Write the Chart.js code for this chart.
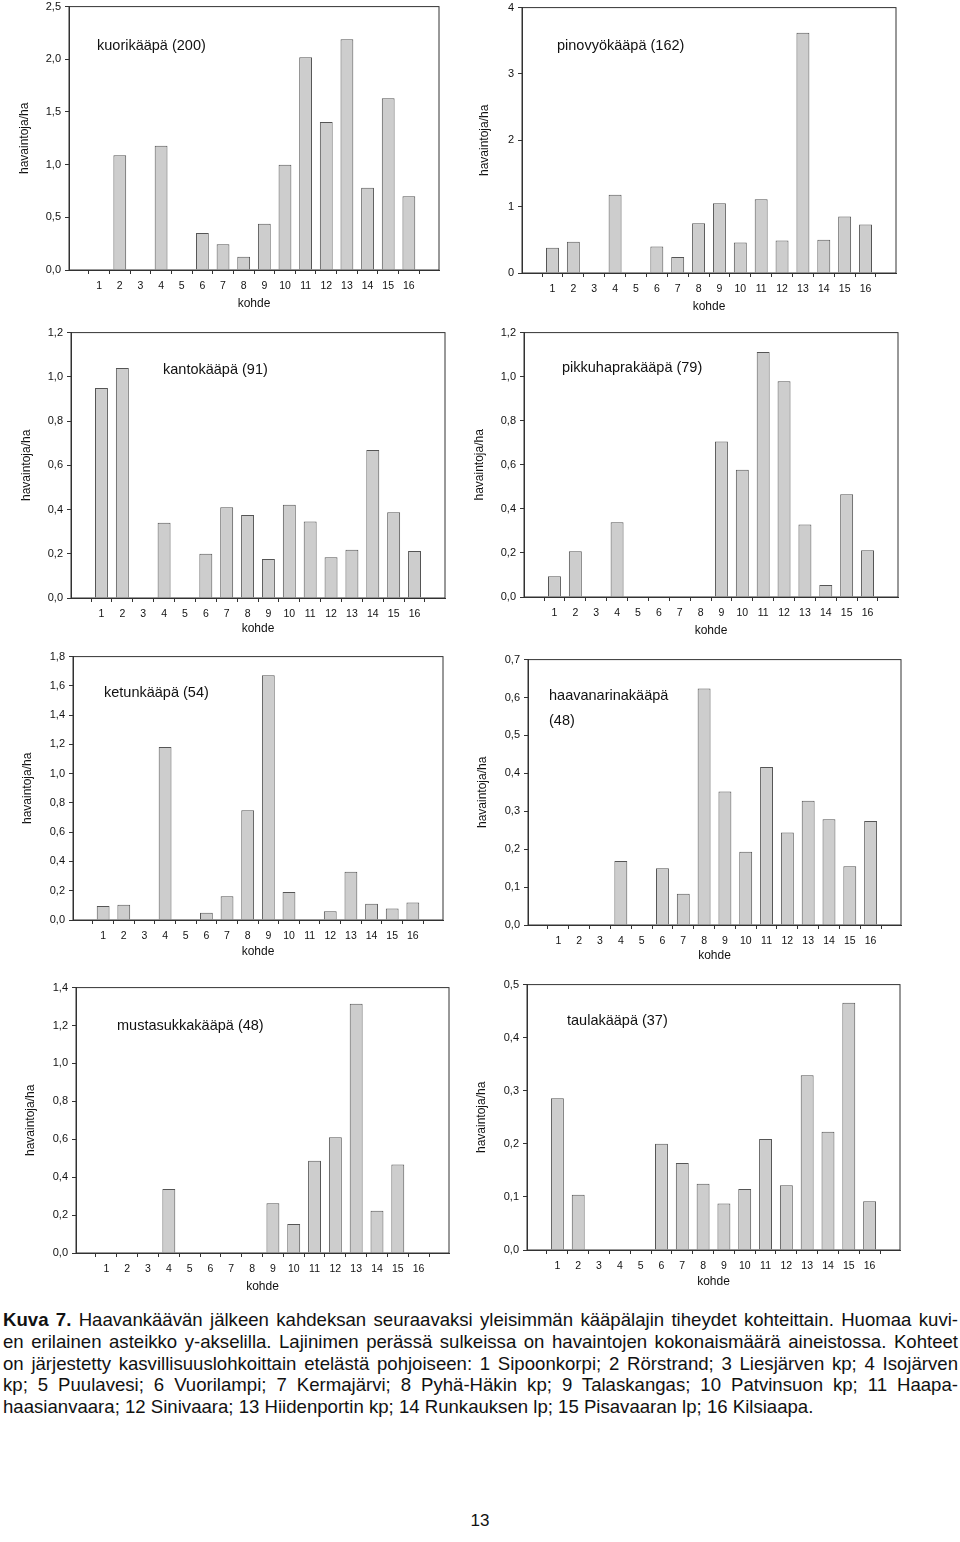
<!DOCTYPE html>
<html>
<head>
<meta charset="utf-8">
<script src="https://cdn.jsdelivr.net/npm/chart.js@4.4.0/dist/chart.umd.min.js"></script>
<style>
  body { margin: 0; background: #fff; width: 960px; height: 1542px; position: relative; overflow: hidden;
         font-family: "Liberation Sans", Arial, sans-serif; color: #111; }
  canvas { position: absolute; }
  #caption { position: absolute; left: 3px; top: 1309px; width: 955px; font-size: 18.6px; line-height: 21.8px; }
  #caption div { text-align: justify; text-align-last: justify; }
  #caption div.last { text-align-last: left; }
  #page { position: absolute; left: 0; width: 960px; top: 1511px; text-align: center; font-size: 17px; }
</style>
</head>
<body>

<canvas id="c1"></canvas>
<canvas id="c2"></canvas>
<canvas id="c3"></canvas>
<canvas id="c4"></canvas>
<canvas id="c5"></canvas>
<canvas id="c6"></canvas>
<canvas id="c7"></canvas>
<canvas id="c8"></canvas>

<div id="caption">
  <div><b>Kuva 7.</b> Haavankäävän jälkeen kahdeksan seuraavaksi yleisimmän kääpälajin tiheydet kohteittain. Huomaa kuvi-</div>
  <div>en erilainen asteikko y-akselilla. Lajinimen perässä sulkeissa on havaintojen kokonaismäärä aineistossa. Kohteet</div>
  <div>on järjestetty kasvillisuuslohkoittain etelästä pohjoiseen: 1 Sipoonkorpi; 2 Rörstrand; 3 Liesjärven kp; 4 Isojärven</div>
  <div>kp; 5 Puulavesi; 6 Vuorilampi; 7 Kermajärvi; 8 Pyhä-Häkin kp; 9 Talaskangas; 10 Patvinsuon kp; 11 Haapa-</div>
  <div class="last">haasianvaara; 12 Sinivaara; 13 Hiidenportin kp; 14 Runkauksen lp; 15 Pisavaaran lp; 16 Kilsiaapa.</div>
</div>
<div id="page">13</div>

<script>
// kohteet 1..16
const kohde = [1, 2, 3, 4, 5, 6, 7, 8, 9, 10, 11, 12, 13, 14, 15, 16];

// havaintoja/ha per laji
const kuorikaapa      = [0, 1.09, 0, 1.18, 0, 0.35, 0.245, 0.125, 0.44, 1.00, 2.02, 1.405, 2.19, 0.78, 1.63, 0.70];
const pinovyokaapa    = [0.38, 0.47, 0, 1.18, 0, 0.40, 0.24, 0.75, 1.05, 0.46, 1.11, 0.49, 3.62, 0.50, 0.85, 0.73];
const kantokaapa      = [0.95, 1.04, 0, 0.34, 0, 0.20, 0.41, 0.375, 0.176, 0.422, 0.346, 0.184, 0.218, 0.669, 0.388, 0.213];
const pikkuhaprakaapa = [0.094, 0.208, 0, 0.339, 0, 0, 0, 0, 0.706, 0.578, 1.112, 0.979, 0.329, 0.055, 0.466, 0.212];
const ketunkaapa      = [0.095, 0.104, 0, 1.183, 0, 0.05, 0.163, 0.75, 1.673, 0.192, 0, 0.059, 0.33, 0.111, 0.079, 0.12];
const haavanarinakaapa = [0, 0, 0, 0.169, 0, 0.150, 0.0825, 0.624, 0.352, 0.193, 0.417, 0.244, 0.328, 0.279, 0.155, 0.274];
const mustasukkakaapa = [0, 0, 0, 0.338, 0, 0, 0, 0, 0.263, 0.153, 0.486, 0.611, 1.315, 0.223, 0.467, 0];
const taulakaapa      = [0.286, 0.104, 0, 0, 0, 0.20, 0.164, 0.125, 0.0876, 0.115, 0.209, 0.122, 0.329, 0.223, 0.466, 0.092];

// otsikot ja y-asteikot
const otsikot = [
  ['kuorikääpä (200)'], ['pinovyökääpä (162)'], ['kantokääpä (91)'], ['pikkuhaprakääpä (79)'],
  ['ketunkääpä (54)'], ['haavanarinakääpä', '(48)'], ['mustasukkakääpä (48)'], ['taulakääpä (37)']
];
const yMax  = [2.5, 4, 1.2, 1.2, 1.8, 0.7, 1.4, 0.5];
const yStep = [0.5, 1, 0.2, 0.2, 0.2, 0.1, 0.2, 0.1];
const yDec  = [1, 0, 1, 1, 1, 1, 1, 1];

const sarjat = [kuorikaapa, pinovyokaapa, kantokaapa, pikkuhaprakaapa, ketunkaapa, haavanarinakaapa, mustasukkakaapa, taulakaapa];

// plot area on the page: left, top, right, bottom; title offset; y-title x; kohde offset
const layout = [
  { l: 69,  t: 4,   r: 439, b: 270,  tx: 28, ty: 39, yt: 25,  kd: 34 },
  { l: 522, t: 5,   r: 896, b: 273,  tx: 35, ty: 38, yt: 485, kd: 34 },
  { l: 71,  t: 330, r: 445, b: 598,  tx: 92, ty: 37, yt: 27,  kd: 31 },
  { l: 524, t: 330, r: 898, b: 597,  tx: 38, ty: 35, yt: 480, kd: 34 },
  { l: 73,  t: 654, r: 443, b: 920,  tx: 31, ty: 36, yt: 28,  kd: 32 },
  { l: 528, t: 657, r: 901, b: 925,  tx: 21, ty: 36, yt: 483, kd: 31 },
  { l: 76,  t: 985, r: 449, b: 1253, tx: 41, ty: 38, yt: 31,  kd: 34 },
  { l: 527, t: 982, r: 900, b: 1250, tx: 40, ty: 36, yt: 482, kd: 32 }
];

const PAD_L = 70, PAD_T = 8, PAD_R = 10, PAD_B = 46;
const axisColor = '#333';
const fontFam = '"Liberation Sans", Arial, sans-serif';

// frame round the plot + species name inside
const framePlugin = {
  id: 'frame',
  afterDraw(chart, args, opts) {
    const a = chart.chartArea, ctx = chart.ctx;
    ctx.save();
    ctx.strokeStyle = axisColor;
    ctx.lineWidth = 1;
    ctx.strokeRect(a.left, a.top, a.right - a.left, a.bottom - a.top);
    ctx.fillStyle = '#111';
    ctx.font = '14.5px ' + fontFam;
    ctx.textBaseline = 'middle';
    ctx.textAlign = 'left';
    opts.lines.forEach((s, i) => ctx.fillText(s, a.left + opts.x, a.top + opts.y + i * 25));
    ctx.restore();
  }
};

sarjat.forEach((vals, i) => {
  const L = layout[i];
  const cv = document.getElementById('c' + (i + 1));
  const w = L.r - L.l + PAD_L + PAD_R, h = L.b - L.t + PAD_T + PAD_B;
  cv.width = w; cv.height = h;
  cv.style.left = (L.l - PAD_L) + 'px';
  cv.style.top = (L.t - PAD_T) + 'px';
  const yTitlePad = L.yt - (L.l - PAD_L) - 7.2;

  new Chart(cv, {
    type: 'bar',
    data: {
      datasets: [{
        data: kohde.map((k, j) => ({ x: k, y: vals[j] })),
        backgroundColor: '#cdcdcd',
        borderColor: '#555',
        borderWidth: 1,
        categoryPercentage: 1,
        barPercentage: 0.62
      }]
    },
    options: {
      responsive: false,
      animation: false,
      layout: { padding: { left: 0, top: PAD_T, right: PAD_R, bottom: 0 } },
      plugins: {
        legend: { display: false },
        tooltip: { enabled: false },
        frame: { lines: otsikot[i], x: L.tx, y: L.ty }
      },
      scales: {
        x: {
          type: 'linear',
          min: 0.1,
          max: 16.9,
          afterBuildTicks: s => { s.ticks = kohde.map(v => ({ value: v })); },
          afterFit: s => { s.height = PAD_B; },
          grid: { drawOnChartArea: false, drawTicks: true, tickLength: 4, color: axisColor },
          border: { display: true, color: axisColor },
          ticks: { color: '#111', font: { family: fontFam, size: 10.5 }, padding: 6, maxRotation: 0, autoSkip: false },
          title: { display: true, text: 'kohde', color: '#111', font: { family: fontFam, size: 12 },
                   padding: { top: 0, bottom: PAD_B - L.kd - 7.2 } }
        },
        y: {
          min: 0,
          max: yMax[i],
          afterFit: s => { s.width = PAD_L; },
          grid: { drawOnChartArea: false, drawTicks: true, tickLength: 4, color: axisColor },
          border: { display: true, color: axisColor },
          ticks: {
            stepSize: yStep[i],
            color: '#111',
            font: { family: fontFam, size: 11 },
            padding: 4,
            callback: v => v.toFixed(yDec[i]).replace('.', ',')
          },
          title: { display: true, text: 'havaintoja/ha', color: '#111', font: { family: fontFam, size: 12 },
                   padding: { top: yTitlePad, bottom: 0 } }
        }
      }
    },
    plugins: [framePlugin]
  });
});
</script>
</body>
</html>
